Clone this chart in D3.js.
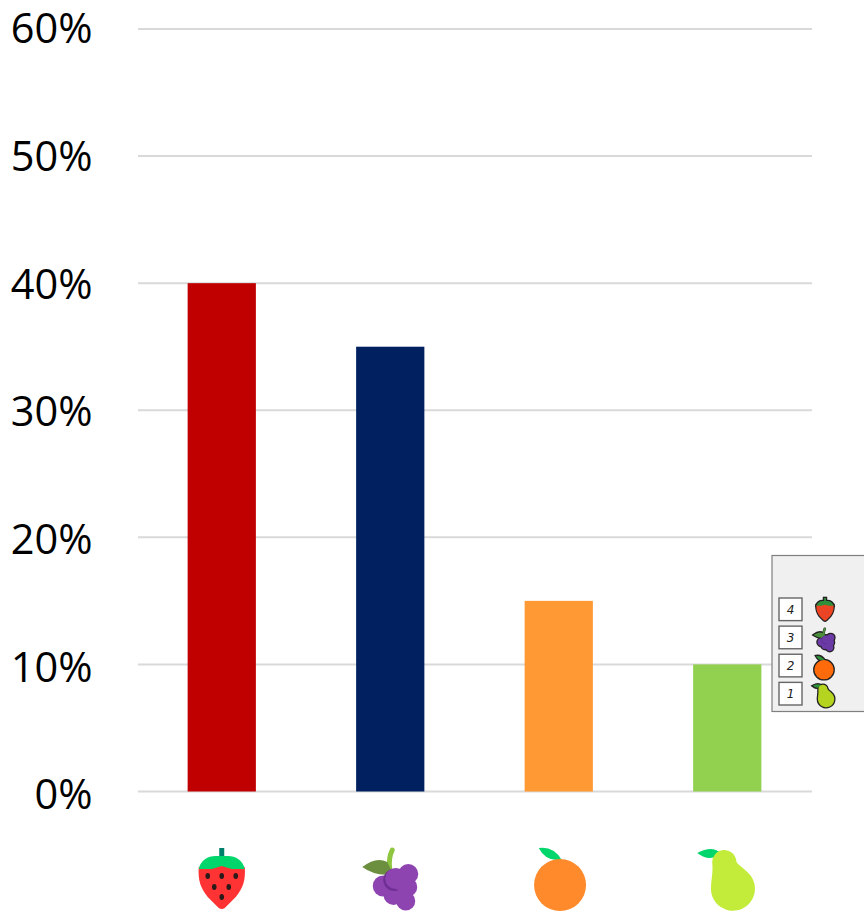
<!DOCTYPE html>
<html><head><meta charset="utf-8">
<script src="https://cdn.jsdelivr.net/npm/d3@7"></script>
<style>html,body{margin:0;padding:0;background:#fff}svg{display:block}</style></head>
<body><svg id="c" width="864" height="911"></svg>
<script>
const categories = ["strawberry","grapes","orange","pear"];
const values = [40,35,15,10];
const barColors = ["#c00000","#002060","#ff9933","#92d050"];
const tickValues = [0,10,20,30,40,50,60];
const legendRanks = ["4","3","2","1"];

const svg = d3.select("#c");
const x = d3.scaleBand().domain(categories).range([137.5,811.5]).paddingInner(0.595).paddingOuter(0.2975);
const y = d3.scaleLinear().domain([0,60]).range([791.5,29]);
const yLabel = d3.scaleLinear().domain([0,60]).range([794.5,28.5]);

svg.append("g").selectAll("line").data(tickValues).join("line")
  .attr("x1",138).attr("x2",812).attr("y1",d=>y(d)).attr("y2",d=>y(d))
  .attr("stroke","#d9d9d9").attr("stroke-width",2);

svg.append("g").selectAll("text").data(tickValues).join("text")
  .attr("x",92.5).attr("y",d=>yLabel(d)).attr("text-anchor","end").attr("dy","0.36em")
  .attr("font-family","'Open Sans',sans-serif").attr("font-size",41.5).attr("fill","#000")
  .text(d=>d+"%");

svg.append("g").selectAll("rect").data(categories).join("rect")
  .attr("x",d=>x(d)).attr("width",x.bandwidth())
  .attr("y",(d,i)=>y(values[i])).attr("height",(d,i)=>y(0)-y(values[i]))
  .attr("fill",(d,i)=>barColors[i]);

const mainPal = {
  strawberry:{body:"#ff3333",leaf:"#00d66b",stem:"#00806a",seed:"#2b1a1a"},
  grapes:{body:"#8e44b0",shade:"#6f2f94",leaf:"#6b8e3f",stem:"#8ec63f"},
  orange:{body:"#ff8a2b",leaf:"#00d66b"},
  pear:{body:"#c3ec3a",leaf:"#00d66b"}
};
const legendPal = {
  strawberry:{body:"#ee4422",leaf:"#2f8f3a",stem:"#2f8f3a",seed:"#d9483a"},
  grapes:{body:"#6b3aa5",shade:"#5c2f92",leaf:"#4c8f3a",stem:"#4c8f3a"},
  orange:{body:"#ff6a0a",leaf:"#2f8f3a"},
  pear:{body:"#b4d420",leaf:"#2f8f3a"}
};

function drawIcon(g,name,p){
  if(name==="strawberry"){
    g.append("rect").attr("x",-2.5).attr("y",0).attr("width",5).attr("height",11).attr("fill",p.stem);
    g.append("path").attr("fill",p.body).attr("d","M0,15L10,19L23,19C24,33 21,40 14,49L3,60Q0,62 -3,60L-14,49C-21,40 -24,33 -23,19L-10,19Z");
    g.append("path").attr("fill",p.leaf).attr("d","M-23,21C-21,12 -14,8 -6,8L6,8C14,8 21,12 23,21L10,21L0,18L-10,21Z");
    [[-14,28],[0,28],[14,28],[-7.5,39],[7,39],[0,49]].forEach(s=>
      g.append("ellipse").attr("cx",s[0]).attr("cy",s[1]).attr("rx",2.3).attr("ry",3).attr("fill",p.seed));
  } else if(name==="grapes"){
    g.append("path").attr("fill","none").attr("stroke",p.stem).attr("stroke-width",5).attr("stroke-linecap","round").attr("d","M2,2Q-2,10 -0.5,21");
    g.append("path").attr("fill",p.leaf).attr("d","M-28,19Q-14,8 -3,14Q0,20 3,26Q-14,29 -28,19Z");
    [[-7,38,10.5],[3.3,47,10],[15.5,53,9.5],[17,39,10],[18,26,10]].forEach(c=>
      g.append("circle").attr("cx",c[0]).attr("cy",c[1]).attr("r",c[2]).attr("fill",p.body));
    g.append("circle").attr("cx",4).attr("cy",32).attr("r",11).attr("fill",p.shade);
    g.append("circle").attr("cx",5.5).attr("cy",30.5).attr("r",10.5).attr("fill",p.body);
    g.append("circle").attr("cx",14).attr("cy",37.5).attr("r",8).attr("fill",p.body);
  } else if(name==="orange"){
    g.append("path").attr("fill",p.leaf).attr("d","M-20,0Q-5,-2 3,12Q-13,14 -20,0Z");
    g.append("circle").attr("cx",1.3).attr("cy",37).attr("r",26).attr("fill",p.body);
  } else {
    g.append("path").attr("fill",p.leaf).attr("d","M-30,5Q-15,-3 -7,5Q-17,15 -30,5Z");
    g.append("path").attr("fill",p.body).attr("d","M-15,15A12,12 0 0 1 9,13C10,17 16,19.5 20,24A22,22 0 1 1 -16.3,41C-16.3,32 -14,25 -15,15Z");
  }
}

const iconTop = 848;
categories.forEach(c=>{
  drawIcon(svg.append("g").attr("transform",`translate(${x(c)+x.bandwidth()/2},${iconTop})`),c,mainPal[c]);
});

const legend = svg.append("g");
legend.append("rect").attr("x",772).attr("y",555.5).attr("width",100).attr("height",156)
  .attr("fill","#f0f0f0").attr("stroke","#7f7f7f").attr("stroke-width",1.2);
const legY = d3.scaleBand().domain(legendRanks).range([598,706]).paddingInner(0.16).paddingOuter(0);
const legendIconTop = {strawberry:598,grapes:628,orange:656,pear:684};
const legendIconX = {strawberry:825,grapes:824,orange:823.5,pear:824};
legendRanks.forEach((r,i)=>{
  const c = categories[i];
  legend.append("rect").attr("x",779).attr("y",legY(r)).attr("width",23).attr("height",legY.bandwidth()-1)
    .attr("fill","#fff").attr("stroke","#666").attr("stroke-width",1.4);
  legend.append("text").attr("x",790.5).attr("y",legY(r)+legY.bandwidth()/2).attr("dy","0.35em")
    .attr("text-anchor","middle").attr("font-family","'DejaVu Sans',sans-serif").attr("font-style","italic")
    .attr("font-size",12).attr("fill","#222").text(r);
  const t = `translate(${legendIconX[c]},${legendIconTop[c]}) scale(0.37)`;
  const under = legend.append("g").attr("transform",t);
  drawIcon(under,c,legendPal[c]);
  under.selectAll("*").attr("stroke","#222").attr("stroke-width",7);
  drawIcon(legend.append("g").attr("transform",t),c,legendPal[c]);
});
</script></body></html>
